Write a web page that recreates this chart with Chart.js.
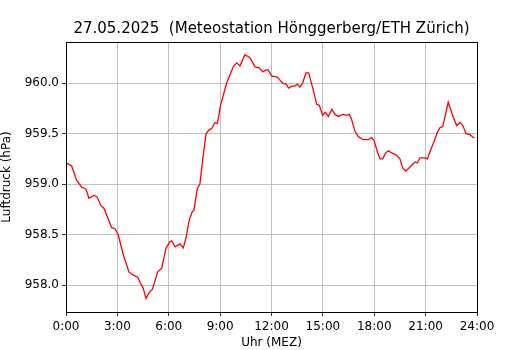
<!DOCTYPE html>
<html>
<head>
<meta charset="utf-8">
<script src="https://cdn.jsdelivr.net/npm/chart.js@4"></script>
<style>
  html, body { margin: 0; padding: 0; background: #fff; }
  #wrap { width: 530px; height: 350px; }
</style>
</head>
<body>
<div id="wrap"><canvas id="c" width="530" height="350"></canvas></div>
<script>
// Tageszeit in Stunden (MEZ) und Luftdruck in hPa
const hours = [
  0.00, 0.33, 0.62, 0.92, 1.17, 1.34, 1.65, 1.83, 2.03, 2.22, 2.67, 2.86, 3.05, 3.35, 3.68, 3.93,
  4.19, 4.32, 4.51, 4.67, 4.86, 5.04, 5.35, 5.59, 5.84, 6.07, 6.17, 6.37, 6.66, 6.85, 7.01, 7.20,
  7.38, 7.47, 7.67, 7.82, 7.98, 8.18, 8.37, 8.51, 8.70, 8.84, 9.03, 9.38, 9.77, 9.97, 10.16, 10.45,
  10.74, 11.04, 11.29, 11.49, 11.68, 11.81, 12.01, 12.34, 12.65, 12.85, 13.00, 13.18, 13.37, 13.51,
  13.66, 13.82, 14.01, 14.17, 14.44, 14.64, 14.79, 14.99, 15.14, 15.32, 15.52, 15.71, 15.90, 16.16,
  16.39, 16.54, 16.68, 16.88, 17.07, 17.36, 17.65, 17.85, 18.00, 18.18, 18.34, 18.49, 18.67, 18.82,
  19.02, 19.27, 19.50, 19.66, 19.84, 20.09, 20.38, 20.51, 20.67, 20.96, 21.10, 21.30, 21.49, 21.68,
  21.84, 22.00, 22.32, 22.62, 22.81, 23.01, 23.17, 23.36, 23.59, 23.84
];
const pressure = [
  959.21, 959.18, 959.04, 958.97, 958.95, 958.86, 958.89, 958.87, 958.79, 958.76, 958.57, 958.56, 958.50, 958.30, 958.13, 958.10,
  958.08, 958.03, 957.97, 957.87, 957.93, 957.96, 958.13, 958.17, 958.37, 958.43, 958.44, 958.38, 958.41, 958.37, 958.47, 958.65,
  958.73, 958.74, 958.96, 959.00, 959.24, 959.50, 959.54, 959.55, 959.61, 959.60, 959.785, 960.00, 960.16, 960.20, 960.17, 960.28,
  960.25, 960.16, 960.15, 960.11, 960.13, 960.13, 960.07, 960.06, 960.00, 959.99, 959.95, 959.97, 959.97, 959.99,
  959.96, 960.00, 960.10, 960.10, 959.93, 959.79, 959.78, 959.68, 959.71, 959.67, 959.74, 959.69, 959.67, 959.69,
  959.68, 959.69, 959.64, 959.52, 959.47, 959.44, 959.44, 959.46, 959.43, 959.32, 959.25, 959.25, 959.31, 959.33,
  959.31, 959.29, 959.25, 959.16, 959.13, 959.17, 959.22, 959.21, 959.26, 959.26, 959.25, 959.34, 959.42, 959.51,
  959.56, 959.57, 959.81, 959.66, 959.58, 959.61, 959.58, 959.50, 959.49, 959.455
];
const xTicks = [0, 3, 6, 9, 12, 15, 18, 21, 24];
const yTicks = [958.0, 958.5, 959.0, 959.5, 960.0];
const titleText = '27.05.2025  (Meteostation Hönggerberg/ETH Zürich)';

const FONT = 'DejaVu Sans';

// Rahmen rund um die Zeichenfläche (wie matplotlib-Spines) + Titel über der Achse zentriert
const frame = {
  id: 'frame',
  afterDatasetsDraw(chart) {
    const { ctx, chartArea: a } = chart;
    ctx.save();
    ctx.strokeStyle = '#000';
    ctx.lineWidth = 1;
    ctx.strokeRect(Math.round(a.left) + 0.5, Math.round(a.top) + 0.5,
                   Math.round(a.right - a.left), Math.round(a.bottom - a.top));
    ctx.fillStyle = '#000';
    ctx.font = '15px "' + FONT + '"';
    ctx.textAlign = 'center';
    ctx.textBaseline = 'middle';
    ctx.fillText(titleText, (a.left + a.right) / 2, 29);
    ctx.restore();
  }
};

new Chart(document.getElementById('c'), {
  type: 'line',
  data: {
    datasets: [{
      data: hours.map((h, i) => ({ x: h, y: pressure[i] })),
      borderColor: '#ff0000', borderWidth: 1.3,
      pointRadius: 0, tension: 0, fill: false
    }]
  },
  options: {
    responsive: false, animation: false,
    layout: { padding: { left: 0, right: 53, top: 42, bottom: 0 } },
    plugins: {
      legend: { display: false },
      tooltip: { enabled: false },
      title: { display: false }
    },
    scales: {
      x: {
        type: 'linear', min: 0, max: 24,
        afterFit: s => { s.height = 38; },
        afterBuildTicks: s => { s.ticks = xTicks.map(v => ({ value: v })); },
        grid: { color: '#b0b0b0', lineWidth: 0.8, tickColor: '#000', tickLength: 4 },
        border: { color: '#000', width: 1 },
        ticks: {
          color: '#000', padding: 4, maxRotation: 0, autoSkip: false,
          font: { family: FONT, size: 12 },
          callback: v => v + ':00'
        },
        title: {
          display: true, text: 'Uhr (MEZ)', color: '#000',
          font: { family: FONT, size: 12 }, padding: { top: 0, bottom: 0 }
        }
      },
      y: {
        min: 957.736, max: 960.406,
        afterFit: s => { s.width = 66; },
        afterBuildTicks: s => { s.ticks = yTicks.map(v => ({ value: v })); },
        grid: { color: '#b0b0b0', lineWidth: 0.8, tickColor: '#000', tickLength: 4 },
        border: { color: '#000', width: 1 },
        ticks: {
          color: '#000', padding: 3,
          font: { family: FONT, size: 12 },
          callback: v => v.toFixed(1)
        },
        title: {
          display: true, text: 'Luftdruck (hPa)', color: '#000',
          font: { family: FONT, size: 12 }, padding: { top: 0, bottom: 0 }
        }
      }
    }
  },
  plugins: [frame]
});
</script>
</body>
</html>
